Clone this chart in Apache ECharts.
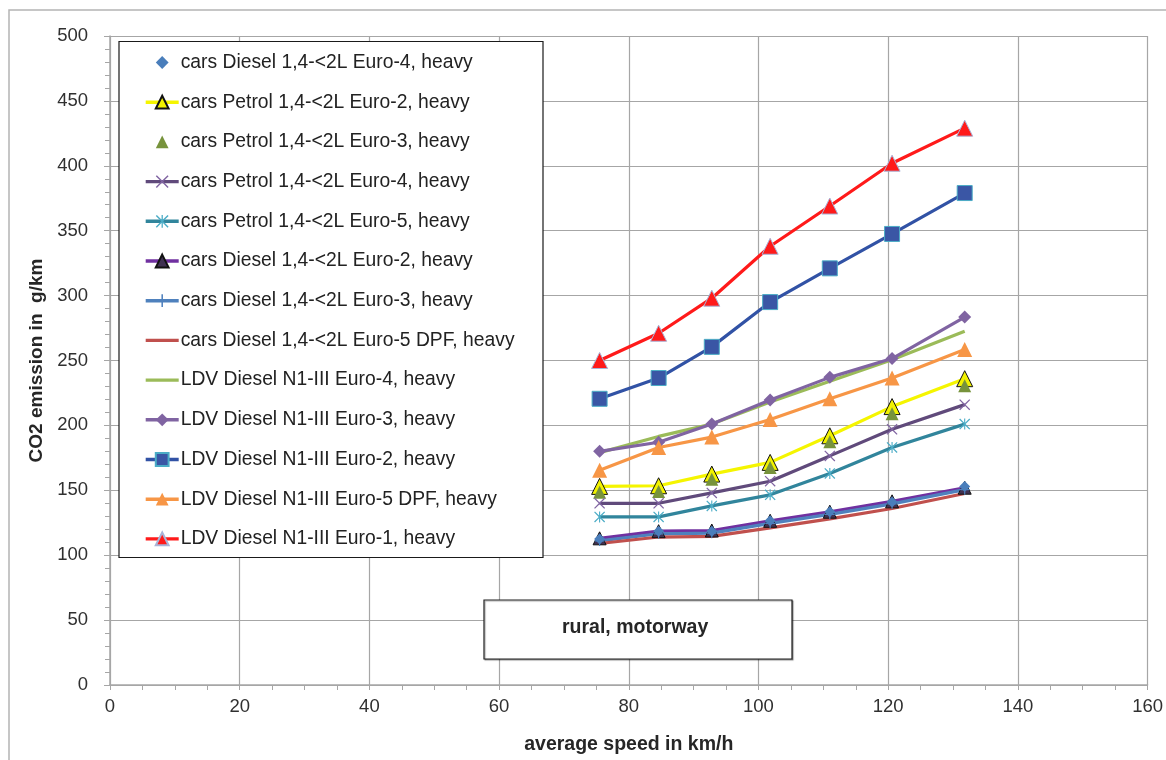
<!DOCTYPE html>
<html>
<head>
<meta charset="utf-8">
<script src="https://cdn.jsdelivr.net/npm/echarts@6/dist/echarts.min.js"></script>
<style>
  html, body { margin: 0; padding: 0; background: #fff; }
  #chart { width: 1166px; height: 760px; }
</style>
</head>
<body>
<div id="chart"></div>
<script>
// average speed (km/h) of the measured points
const speeds = [75.5, 84.6, 92.8, 101.8, 111.0, 120.6, 131.8];

// CO2 emission in g/km, one array per vehicle class
const carsDieselE4 = [112.5, 118.5, 118.5, 126.5, 133.5, 141, 153];
const carsPetrolE2 = [153, 153.5, 162.5, 171.5, 192, 214.5, 236];
const carsPetrolE3 = [148.5, 149, 158.5, 167.5, 187.5, 209, 230.5];
const carsPetrolE4 = [140, 140, 148, 157, 176.5, 197, 216];
const carsPetrolE5 = [129.5, 129.5, 138, 146.5, 163, 183, 201];
const carsDieselE2 = [113, 118.5, 119, 126.5, 133.5, 141.5, 152];
const carsDieselE3 = [111, 116.5, 117, 124.5, 131.5, 139.5, 150.5];
const carsDieselE5 = [109, 114, 114.5, 121, 128, 136, 147.5];
const ldvE4 = [179, 191.5, 201, 218, 234, 250.5, 272.5];
const ldvE3 = [180, 187, 201, 219.5, 237, 251.5, 283.5];
const ldvE2 = [220.5, 236.5, 260.5, 295, 321, 347.5, 379];
const ldvE5 = [165.5, 183, 191, 204.5, 220.5, 236.5, 258.5];
const ldvE1 = [250, 271, 298, 338, 369, 402, 429];

const seriesNames = [
  'cars Diesel 1,4-<2L Euro-4, heavy',
  'cars Petrol 1,4-<2L Euro-2, heavy',
  'cars Petrol 1,4-<2L Euro-3, heavy',
  'cars Petrol 1,4-<2L Euro-4, heavy',
  'cars Petrol 1,4-<2L Euro-5, heavy',
  'cars Diesel 1,4-<2L Euro-2, heavy',
  'cars Diesel 1,4-<2L Euro-3, heavy',
  'cars Diesel 1,4-<2L Euro-5 DPF, heavy',
  'LDV Diesel N1-III Euro-4, heavy',
  'LDV Diesel N1-III Euro-3, heavy',
  'LDV Diesel N1-III Euro-2, heavy',
  'LDV Diesel N1-III Euro-5 DPF, heavy',
  'LDV Diesel N1-III Euro-1, heavy'
];

const xTicks = [0, 160, 20];
const yTicks = [0, 500, 50];

// marker shapes drawn as filled outlines
const plusPath = 'path://M0,4.4h10v1.2h-10z M4.4,0h1.2v10h-1.2z';
const crossPath = 'path://M0,0.8L0.8,0L5,4.2L9.2,0L10,0.8L5.8,5L10,9.2L9.2,10L5,5.8L0.8,10L0,9.2L4.2,5Z';
const starPath = crossPath + ' M4.5,0h1v10h-1z';

const FONT = 'Liberation Sans';

function pts(ys) {
  return speeds.map((x, i) => [x, ys[i]]);
}

function line(name, ys, o) {
  const noMark = !o.symbol;
  return {
    name: name,
    type: 'line',
    data: pts(ys),
    symbol: o.symbol || 'circle',
    symbolSize: noMark ? 0 : (o.size || 10),
    showSymbol: !noMark,
    z: o.z || 2,
    lineStyle: { color: o.line || o.fill, width: o.width === undefined ? 3.2 : o.width, opacity: o.width === 0 ? 0 : 1 },
    itemStyle: {
      color: noMark ? 'rgba(0,0,0,0)' : (o.fill || o.line),
      borderColor: noMark ? 'rgba(0,0,0,0)' : (o.border || o.fill || o.line),
      borderWidth: o.border ? 1 : 0
    },
    emphasis: { disabled: true },
    animation: false
  };
}

const chart = echarts.init(document.getElementById('chart'));

chart.setOption({
  backgroundColor: '#ffffff',
  textStyle: { fontFamily: FONT },
  grid: { left: 110, right: 17, top: 36, bottom: 74 },
  graphic: [
    {
      type: 'rect', z: 0, silent: true,
      shape: { x: 9, y: 10, width: 1170, height: 770 },
      style: { fill: 'none', stroke: '#b4b4b4', lineWidth: 1.5 }
    },
    {
      type: 'rect', z: 3, silent: true,
      shape: { x: 119, y: 41.5, width: 424, height: 516 },
      style: { fill: '#ffffff', stroke: '#1a1a1a', lineWidth: 1.2 }
    },
    {
      type: 'rect', z: 3, silent: true,
      shape: { x: 484, y: 600, width: 308, height: 59 },
      style: { fill: '#ffffff', stroke: '#222222', lineWidth: 1.2, shadowColor: 'rgba(0,0,0,0.35)', shadowOffsetX: 1, shadowOffsetY: 1, shadowBlur: 1 }
    },
    {
      type: 'text', z: 4, silent: true,
      left: 638 - 76, top: 618,
      style: { text: 'rural, motorway', font: 'bold 19.5px "' + FONT + '"', fill: '#262626' }
    }
  ],
  legend: {
    orient: 'vertical',
    left: 144,
    top: 52.5,
    padding: 0,
    itemWidth: 33,
    itemHeight: 16,
    itemGap: 19.7,
    data: seriesNames,
    lineStyle: { width: 3.4 },
    textStyle: { fontSize: 19.3, color: '#222', fontFamily: FONT, lineHeight: 20, padding: [0, 0, 0, -3] },
    z: 5
  },
  xAxis: {
    type: 'value',
    min: xTicks[0], max: xTicks[1], interval: xTicks[2],
    name: 'average speed in km/h',
    nameLocation: 'middle',
    nameGap: 50,
    nameTextStyle: { fontWeight: 'bold', fontSize: 19.5, color: '#262626', fontFamily: FONT },
    axisLine: { onZero: false, lineStyle: { color: '#a6a6a6', width: 1.5 } },
    axisTick: { show: true, inside: false, length: 5, lineStyle: { color: '#a6a6a6' } },
    minorTick: { show: true, splitNumber: 4, length: 5, lineStyle: { color: '#a6a6a6' } },
    axisLabel: { fontSize: 18.5, color: '#303030', margin: 12, fontFamily: FONT },
    splitLine: { show: true, lineStyle: { color: '#a6a6a6', width: 1.2 } }
  },
  yAxis: {
    type: 'value',
    min: yTicks[0], max: yTicks[1], interval: yTicks[2],
    name: 'CO2 emission in  g/km',
    nameLocation: 'middle',
    nameGap: 55,
    nameTextStyle: { fontWeight: 'bold', fontSize: 19, color: '#262626', fontFamily: FONT },
    axisLine: { show: true, lineStyle: { color: '#a6a6a6', width: 1.5 } },
    axisTick: { show: true, length: 6, lineStyle: { color: '#a6a6a6' } },
    minorTick: { show: true, splitNumber: 5, length: 5, lineStyle: { color: '#a6a6a6' } },
    axisLabel: { fontSize: 18.5, color: '#303030', margin: 22, fontFamily: FONT },
    splitLine: { show: true, lineStyle: { color: '#a6a6a6', width: 1.2 } }
  },
  series: [
    line(seriesNames[0], carsDieselE4, { symbol: 'diamond', size: 11, fill: '#4a7ebb', width: 0, z: 3 }),
    line(seriesNames[1], carsPetrolE2, { symbol: 'triangle', size: 16, line: '#f5f500', fill: '#f2f200', border: '#111' }),
    line(seriesNames[2], carsPetrolE3, { symbol: 'triangle', size: 13, fill: '#77933c', width: 0 }),
    line(seriesNames[3], carsPetrolE4, { symbol: crossPath, size: 11, line: '#604a7b', fill: '#8064a2' }),
    line(seriesNames[4], carsPetrolE5, { symbol: starPath, size: 11, line: '#31859c', fill: '#4bacc6' }),
    line(seriesNames[5], carsDieselE2, { symbol: 'triangle', size: 13, line: '#7030a0', fill: '#403152', border: '#111' }),
    line(seriesNames[6], carsDieselE3, { symbol: plusPath, size: 10, line: '#4f81bd', fill: '#4f81bd' }),
    line(seriesNames[7], carsDieselE5, { line: '#c0504d' }),
    line(seriesNames[8], ldvE4, { line: '#9bbb59' }),
    line(seriesNames[9], ldvE3, { symbol: 'diamond', size: 13, line: '#8064a2', fill: '#8064a2' }),
    line(seriesNames[10], ldvE2, { symbol: 'rect', size: 15, line: '#3152a5', fill: '#3a56a5', border: '#4bacc6' }),
    line(seriesNames[11], ldvE5, { symbol: 'triangle', size: 15, line: '#f79646', fill: '#f79646' }),
    line(seriesNames[12], ldvE1, { symbol: 'triangle', size: 16, line: '#ff1a1a', fill: '#ff1a1a', border: '#a8b4d8' })
  ]
});
</script>
</body>
</html>
